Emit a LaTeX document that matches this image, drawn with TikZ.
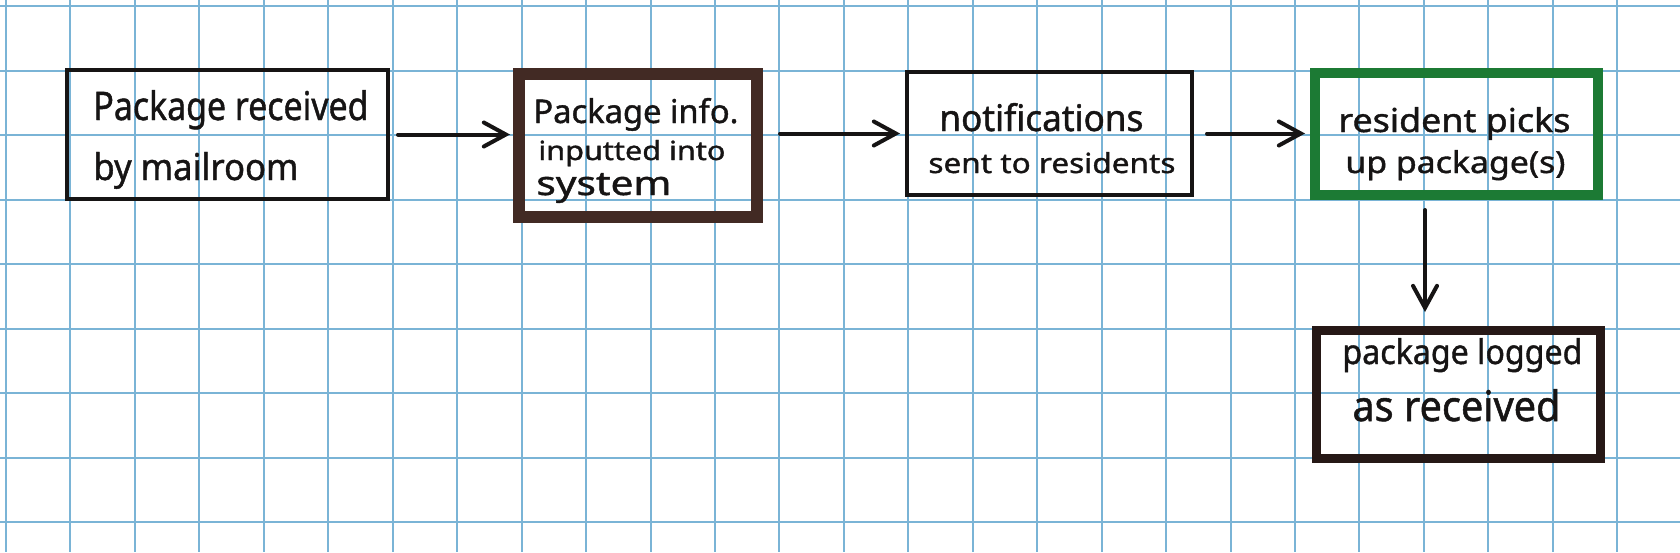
\documentclass[tikz,border=0pt]{standalone}
\usepackage{fontspec}
\setmainfont{Noto Sans}[FakeBold=1.2]
\newfontfamily\handfont{Noto Sans}[FakeBold=1.2]
\usepackage{graphicx}
\usetikzlibrary{arrows.meta}
\definecolor{gridblue}{RGB}{122,180,214}
\definecolor{ink}{RGB}{22,20,20}
\definecolor{brownink}{RGB}{66,42,36}
\definecolor{greenink}{RGB}{28,122,52}
\definecolor{darkink}{RGB}{38,24,22}
\newcommand\handline[3]{\resizebox{#1pt}{#2pt}{\handfont #3}}
\begin{document}
\begin{tikzpicture}[x=0.5pt,y=-0.5pt,
  gridline/.style={draw=gridblue, line width=1pt},
  box/.style={draw, rectangle, inner sep=0pt},
  thinbox/.style={box, draw=ink, line width=2pt},
  brownbox/.style={box, draw=brownink, line width=6pt},
  greenbox/.style={box, draw=greenink, line width=5pt},
  darkbox/.style={box, draw=darkink, line width=4.5pt},
  txt/.style={anchor=base west, inner sep=0pt, text=ink},
  arr/.style={draw=ink, line width=2pt, line cap=round,
    -{Straight Barb[length=11pt,width=12pt,line cap=round]}}]
\useasboundingbox (0,0) rectangle (1680,552);
\fill[white] (0,0) rectangle (1680,552);
\foreach \k in {0,...,25} \draw[gridline] ({6+64.45*\k},0) -- ({6+64.45*\k},552);
\foreach \j in {0,...,8} \draw[gridline] (0,{6+64.5*\j}) -- (1680,{6+64.5*\j});

% boxes
\node[thinbox, minimum width=160.5pt, minimum height=64.5pt] (b1) at (227.5,134.5) {};
\node[brownbox, minimum width=119pt, minimum height=71.5pt] (b2) at (638,145.5) {};
\node[thinbox, minimum width=142.5pt, minimum height=61.5pt] (b3) at (1049.5,133.5) {};
\node[greenbox, minimum width=141.5pt, minimum height=61pt] (b4) at (1456.5,134) {};
\node[darkbox, minimum width=142pt, minimum height=64pt] (b5) at (1458.5,394.5) {};

% texts
\node[txt] (t1a) at (93,120) {\handline{137.5}{15}{Package received}};
\node[txt] (t1b) at (93,180) {\handline{102.5}{14}{by mailroom}};
\node[txt] (t2a) at (533,123) {\handline{102.5}{12.5}{Package info.}};
\node[txt] (t2b) at (538,160) {\handline{93.5}{10}{inputted into}};
\node[txt] (t2c) at (536,195) {\handline{67.5}{11}{system}};
\node[txt] (t3a) at (939,131) {\handline{102}{14}{notifications}};
\node[txt] (t3b) at (928,173) {\handline{123.5}{10.5}{sent to residents}};
\node[txt] (t4a) at (1338,132) {\handline{116}{12.5}{resident picks}};
\node[txt] (t4b) at (1345,173) {\handline{110}{11.5}{up package(s)}};
\node[txt] (t5a) at (1342,364) {\handline{120}{13}{package logged}};
\node[txt] (t5b) at (1352,421) {\handline{104}{16}{as received}};

% connectors
\draw[arr, shorten <=4pt, shorten >=1.5pt] (b1.east) -- (b1.east -| b2.west);
\draw[arr, shorten <=8.5pt, shorten >=2.5pt] (b2.east |- b3.west) -- (b3.west);
\draw[arr, shorten <=6.5pt, shorten >=2.5pt] (b3.east) -- (b3.east -| b4.west);
\draw[arr, shorten <=5pt, shorten >=7pt] ([xshift=-15.75pt]b4.south) -- ([xshift=-15.75pt]b4.south |- b5.north);
\end{tikzpicture}
\end{document}
